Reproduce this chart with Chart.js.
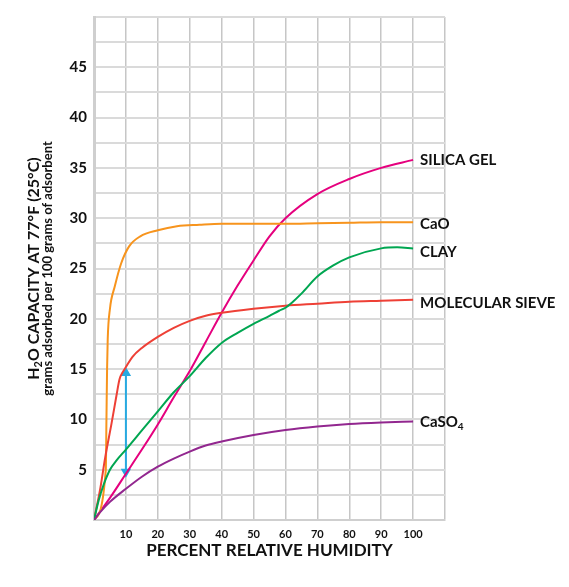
<!DOCTYPE html>
<html>
<head>
<meta charset="utf-8">
<script src="https://cdn.jsdelivr.net/npm/chart.js@4.4.1/dist/chart.umd.min.js"></script>
<style>
  html, body { margin: 0; padding: 0; background: #fff; }
  canvas { display: block; }
</style>
</head>
<body>
<canvas id="chart" width="569" height="587"></canvas>
<script>
// ---------- DATA ----------
const silicaX = [0, 5, 10, 15, 20, 25, 30, 35, 40, 45, 50, 55, 60, 70, 80, 90, 100];
const silicaY = [0, 2.2, 4.6, 7.0, 9.5, 12.2, 14.8, 17.7, 20.6, 23.3, 25.8, 28.2, 30.0, 32.4, 33.9, 35.0, 35.8];

const caoX = [0, 3.7, 3.9, 4.1, 4.3, 5, 6.5, 8.5, 11, 14.5, 20, 26, 33, 40, 50, 60, 70, 80, 90, 100];
const caoY = [0, 5, 10, 15, 18, 21, 23.2, 25.5, 27.2, 28.2, 28.8, 29.2, 29.35, 29.45, 29.45, 29.45, 29.5, 29.55, 29.6, 29.6];

const clayX = [0, 1.5, 3, 5, 7, 10, 15, 20, 25, 30, 35, 40, 45, 50, 55, 58, 60, 62, 65, 70, 75, 80, 90, 95, 100];
const clayY = [0, 2, 3.5, 5, 5.9, 7, 8.9, 10.8, 12.7, 14.3, 16.1, 17.6, 18.6, 19.5, 20.3, 20.8, 21.1, 21.6, 22.5, 24.2, 25.3, 26.1, 27.0, 27.1, 27.0];

const sieveX = [0, 2, 3.5, 5.5, 7, 8, 9, 10, 12, 15, 20, 25, 30, 35, 40, 50, 60, 70, 80, 90, 100];
const sieveY = [0, 3.2, 6.2, 9.6, 12.3, 14, 14.7, 15.2, 16.2, 17.1, 18.2, 19.1, 19.8, 20.3, 20.6, 21, 21.3, 21.5, 21.7, 21.8, 21.9];

const caso4X = [0, 2, 5, 10, 15, 20, 25, 30, 35, 40, 50, 60, 70, 80, 90, 100];
const caso4Y = [0, 0.8, 1.8, 3.1, 4.3, 5.3, 6.1, 6.8, 7.4, 7.8, 8.45, 8.95, 9.3, 9.55, 9.7, 9.8];

// blue double arrow at 10 % RH
const arrowX = [10, 10];
const arrowY = [14.6, 4.8];

const seriesNames = ['SILICA GEL', 'CaO', 'CLAY', 'MOLECULAR SIEVE', 'CaSO_4'];
const xTicks = [10, 20, 30, 40, 50, 60, 70, 80, 90, 100];
const yTicks = [5, 10, 15, 20, 25, 30, 35, 40, 45];

const FONT = 'Lato, "Open Sans", sans-serif';

const toPoints = (xs, ys) => xs.map((x, i) => ({ x, y: ys[i] }));

// draws text where "_2" means a subscript 2
function drawRich(ctx, text, x, y, size, align) {
  const parts = text.split(/_(\d)/);
  const fontFor = i => `bold ${i % 2 ? Math.round(size * 0.68) : size}px ${FONT}`;
  const widths = parts.map((p, i) => { ctx.font = fontFor(i); return ctx.measureText(p).width; });
  const total = widths.reduce((a, b) => a + b, 0);
  let cx = align === 'center' ? x - total / 2 : x;
  ctx.textAlign = 'left';
  ctx.textBaseline = 'middle';
  parts.forEach((p, i) => {
    ctx.font = fontFor(i);
    ctx.fillText(p, cx, y + (i % 2 ? size * 0.3 : 0));
    cx += widths[i];
  });
}

const textPlugin = {
  id: 'texts',
  afterDraw(chart) {
    const { ctx, chartArea } = chart;
    ctx.save();
    ctx.fillStyle = '#111';

    // end labels
    chart.data.datasets.forEach((ds, i) => {
      if (!ds.endLabel) return;
      const pts = chart.getDatasetMeta(i).data;
      const last = pts[pts.length - 1];
      drawRich(ctx, ds.endLabel, last.x + 7, last.y + (ds.labelDy || 0), 15, 'left');
    });

    // x title
    drawRich(ctx, 'PERCENT RELATIVE HUMIDITY', (chartArea.left + chartArea.right) / 2, chartArea.bottom + 31, 17, 'center');

    // y titles (rotated)
    const cy = (chartArea.top + chartArea.bottom) / 2;
    ctx.translate(34, cy);
    ctx.rotate(-Math.PI / 2);
    drawRich(ctx, 'H_2O CAPACITY AT 77°F (25°C)', 0, 0, 16, 'center');
    drawRich(ctx, 'grams adsorbed per 100 grams of adsorbent', 0, 14, 13, 'center');
    ctx.restore();
  }
};

const lineStyle = color => ({
  showLine: true,
  borderColor: color,
  backgroundColor: color,
  borderWidth: 2,
  pointRadius: 0,
  cubicInterpolationMode: 'monotone',
});

new Chart(document.getElementById('chart'), {
  type: 'scatter',
  data: {
    datasets: [
      { ...lineStyle('#92278f'), data: toPoints(caso4X, caso4Y), endLabel: seriesNames[4], labelDy: 1 },
      { ...lineStyle('#00a651'), data: toPoints(clayX, clayY), endLabel: seriesNames[2], labelDy: 4 },
      { ...lineStyle('#ee4036'), data: toPoints(sieveX, sieveY), endLabel: seriesNames[3], labelDy: 3 },
      { ...lineStyle('#f7941d'), data: toPoints(caoX, caoY), endLabel: seriesNames[1], labelDy: 2 },
      { ...lineStyle('#e5007e'), data: toPoints(silicaX, silicaY), endLabel: seriesNames[0], labelDy: 0 },
      {
        // arrow
        showLine: true,
        data: toPoints(arrowX, arrowY),
        borderColor: '#27aae1',
        backgroundColor: '#27aae1',
        borderWidth: 2,
        pointStyle: 'triangle',
        pointRadius: 4,
        pointRotation: [0, 180],
      },
    ],
  },
  options: {
    responsive: false,
    animation: false,
    layout: { padding: { left: 0, right: 124, top: 17, bottom: 0 } },
    plugins: { legend: { display: false }, tooltip: { enabled: false } },
    scales: {
      x: {
        type: 'linear',
        min: 0,
        max: 110,
        afterFit: scale => { scale.height = 67; },
        border: { display: true, color: '#cfcfcf', width: 2 },
        grid: { color: '#c6c6c6', lineWidth: 1.5, drawTicks: false },
        ticks: {
          stepSize: 10,
          padding: 8,
          color: '#111',
          font: { family: FONT, size: 11, weight: 'bold' },
          callback: v => (xTicks.includes(v) ? v : ''),
        },
      },
      y: {
        min: 0,
        max: 50,
        afterFit: scale => { scale.width = 94; },
        border: { display: true, color: '#cfcfcf', width: 3 },
        grid: { color: '#dadada', lineWidth: 2, drawTicks: false },
        ticks: {
          stepSize: 2.5,
          padding: 7,
          color: '#111',
          font: { family: FONT, size: 15, weight: 'bold' },
          callback: v => (yTicks.includes(v) ? v : ''),
        },
      },
    },
  },
  plugins: [textPlugin],
});
</script>
</body>
</html>
